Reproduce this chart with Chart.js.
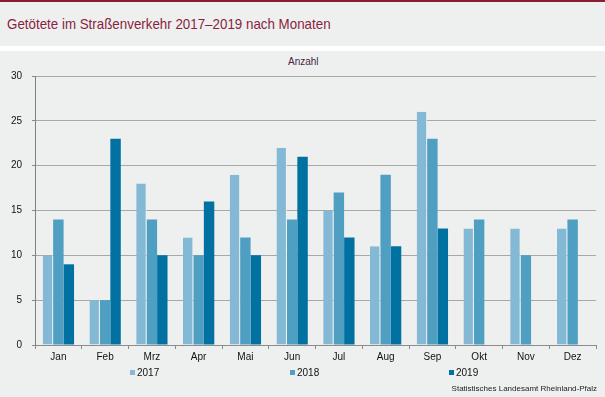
<!DOCTYPE html>
<html lang="de">
<head>
<meta charset="utf-8">
<script src="https://cdn.jsdelivr.net/npm/chart.js@4"></script>
<style>
    html, body { margin: 0; padding: 0; }
    body {
        width: 605px; height: 397px; position: relative; overflow: hidden;
        background: #eef0ef; font-family: Arial, "Liberation Sans", sans-serif;
    }
    .topline { position: absolute; left: 0; top: 0; width: 605px; height: 2px; background: #8a1c35; }
    .title {
        position: absolute; left: 7px; top: 15px; font-size: 15px; color: #8b1d3d; white-space: nowrap;
        transform: scaleX(0.89); transform-origin: left top;
    }
    .gap { position: absolute; left: 0; top: 46px; width: 605px; height: 5px; background: #ffffff; }
    .unit { position: absolute; left: 288px; top: 56px; font-size: 10px; color: #4a2347; }
    .legend { position: absolute; top: 367px; left: 0; font-size: 10px; color: #111; }
    .legend span { position: absolute; white-space: nowrap; }
    .legend i { display: inline-block; width: 5px; height: 5px; margin-right: 2px; vertical-align: 1px; }
    .source { position: absolute; right: 8px; top: 384px; font-size: 8px; color: #222; white-space: nowrap; }
    #chartWrap { position: absolute; left: 0; top: 0; width: 605px; height: 397px; }
</style>
</head>
<body>
<div class="topline"></div>
<div class="title">Getötete im Straßenverkehr 2017–2019 nach Monaten</div>
<div class="gap"></div>
<div class="unit">Anzahl</div>
<div id="chartWrap"><canvas id="monthChart" width="605" height="397"></canvas></div>
<div class="legend" id="legend"></div>
<div class="source">Statistisches Landesamt Rheinland-Pfalz</div>

<script>
// Data
const months = ['Jan', 'Feb', 'Mrz', 'Apr', 'Mai', 'Jun', 'Jul', 'Aug', 'Sep', 'Okt', 'Nov', 'Dez'];
const years = ['2017', '2018', '2019'];
const values2017 = [10, 5, 18, 12, 19, 22, 15, 11, 26, 13, 13, 13];
const values2018 = [14, 5, 14, 10, 12, 14, 17, 19, 23, 14, 10, 14];
const values2019 = [9, 23, 10, 16, 10, 21, 12, 11, 13, null, null, null];
const yTicks = [0, 5, 10, 15, 20, 25, 30];

const colors = ['#83b9d5', '#4f9fc3', '#0071a1'];
const legendX = [130, 290, 449];

document.addEventListener('DOMContentLoaded', function() {
    buildLegend();
    initializeChart();
});

function buildLegend() {
    const legend = document.getElementById('legend');
    years.forEach((year, i) => {
        const item = document.createElement('span');
        item.style.left = legendX[i] + 'px';
        item.innerHTML = '<i style="background:' + colors[i] + '"></i>' + year;
        legend.appendChild(item);
    });
}

function initializeChart() {
    const ctx = document.getElementById('monthChart');
    const series = [values2017, values2018, values2019];

    new Chart(ctx, {
        type: 'bar',
        data: {
            labels: months,
            datasets: series.map((values, i) => ({
                label: years[i],
                data: values,
                backgroundColor: colors[i],
                borderWidth: i === 0 ? { right: 1 } : 0,
                borderColor: '#eef0ef',
                categoryPercentage: 0.67,
                barPercentage: 1.0
            }))
        },
        options: {
            responsive: false,
            animation: false,
            layout: { padding: { top: 76, right: 9, bottom: 0, left: 0 } },
            plugins: {
                legend: { display: false },
                title: { display: false },
                tooltip: { enabled: false }
            },
            scales: {
                x: {
                    afterFit: scale => { scale.height = 52; },
                    grid: {
                        offset: true,
                        drawOnChartArea: false,
                        drawTicks: true,
                        tickLength: 4,
                        color: '#8c8c8c'
                    },
                    border: { color: '#8c8c8c' },
                    ticks: {
                        color: '#111',
                        font: { family: 'Arial, "Liberation Sans", sans-serif', size: 10 },
                        padding: 2
                    }
                },
                y: {
                    min: 0,
                    max: 30,
                    afterFit: scale => { scale.width = 35; },
                    afterBuildTicks: scale => { scale.ticks = yTicks.map(v => ({ value: v })); },
                    grid: {
                        color: '#a8a8a8',
                        tickLength: 3,
                        tickColor: '#8c8c8c'
                    },
                    border: { color: '#808080' },
                    ticks: {
                        color: '#111',
                        font: { family: 'Arial, "Liberation Sans", sans-serif', size: 10 },
                        padding: 10
                    }
                }
            }
        }
    });
}
</script>
</body>
</html>
